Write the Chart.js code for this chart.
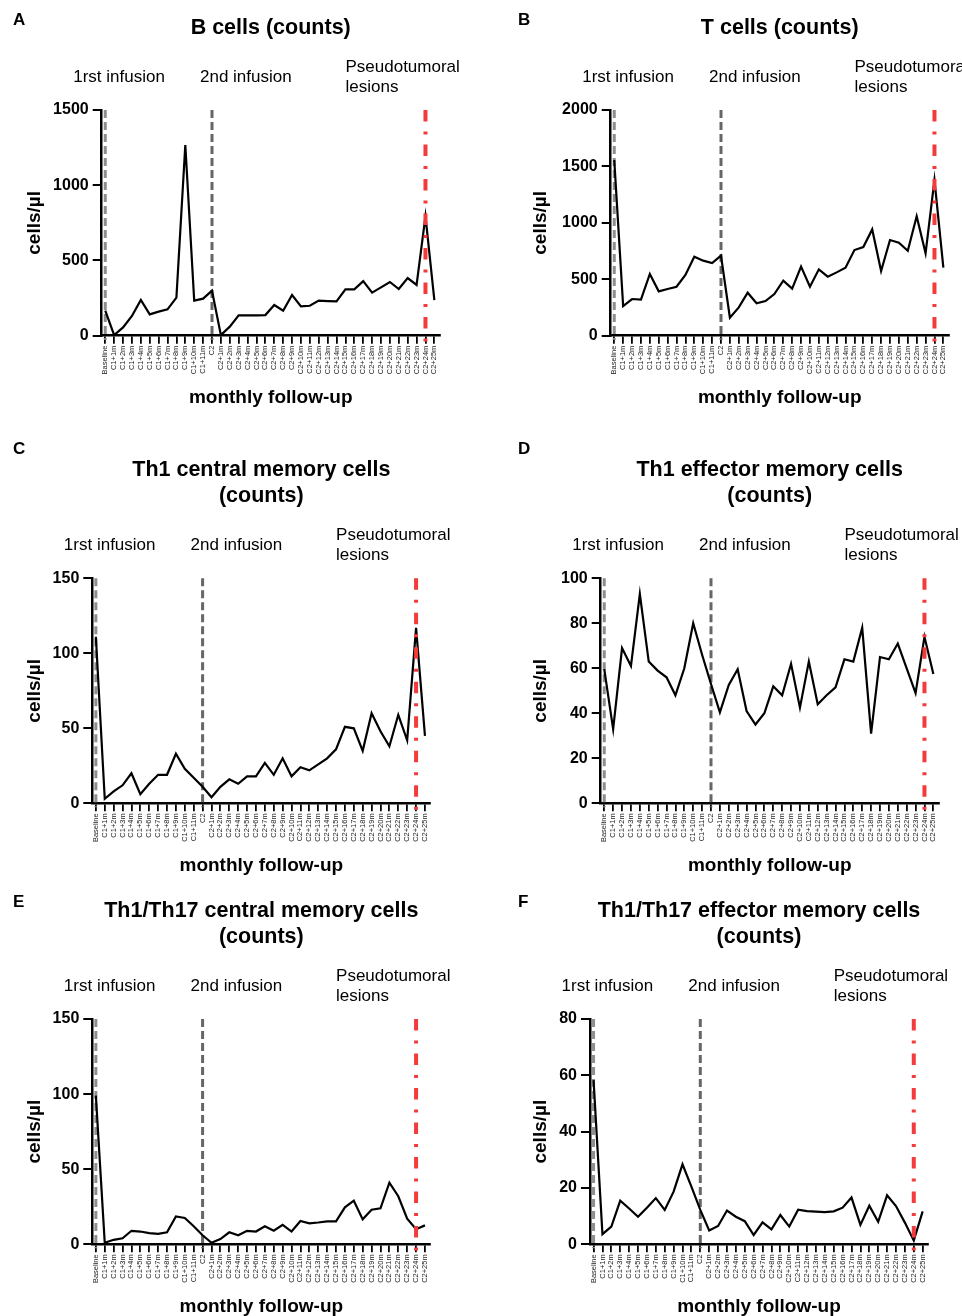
<!DOCTYPE html>
<html>
<head>
<meta charset="utf-8">
<title>Monthly follow-up of lymphocyte subsets</title>
<script src="https://cdn.jsdelivr.net/npm/chart.js@4.4.1/dist/chart.umd.min.js"></script>
<style>
  html, body { margin: 0; padding: 0; background: #fff; }
  body { width: 962px; height: 1316px; position: relative; overflow: hidden; }
  canvas { position: absolute; }
</style>
</head>
<body>
<canvas id="panelA"></canvas>
<canvas id="panelB"></canvas>
<canvas id="panelC"></canvas>
<canvas id="panelD"></canvas>
<canvas id="panelE"></canvas>
<canvas id="panelF"></canvas>
<script>
// DATA
const categories = [
  'Baseline', 'C1+1m', 'C1+2m', 'C1+3m', 'C1+4m', 'C1+5m', 'C1+6m', 'C1+7m', 'C1+8m', 'C1+9m', 'C1+10m', 'C1+11m',
  'C2', 'C2+1m', 'C2+2m', 'C2+3m', 'C2+4m', 'C2+5m', 'C2+6m', 'C2+7m', 'C2+8m', 'C2+9m', 'C2+10m', 'C2+11m',
  'C2+12m', 'C2+13m', 'C2+14m', 'C2+15m', 'C2+16m', 'C2+17m', 'C2+18m', 'C2+19m', 'C2+20m', 'C2+21m', 'C2+22m',
  'C2+23m', 'C2+24m', 'C2+25m'
];

const bCells = [166, 4, 55, 131, 237, 142, 160, 175, 253, 1267, 233, 246, 299, 4, 60, 135, 135, 135, 137, 204, 166, 270,
  195, 199, 233, 230, 228, 308, 308, 363, 286, 321, 357, 310, 383, 337, 795, 237];
const tCells = [1557, 263, 325, 319, 547, 393, 414, 434, 538, 700, 665, 644, 709, 160, 251, 381, 287, 307, 369, 487, 417,
  612, 434, 588, 523, 561, 603, 759, 786, 942, 573, 848, 824, 753, 1058, 730, 1380, 603];
const th1CentralMem = [111, 3, 8, 12, 20, 6, 13, 19, 19, 33, 23, 17, 11, 4, 11, 16, 13, 18, 18, 27, 19, 30, 18, 24, 22,
  26, 30, 36, 51, 50, 35, 60, 48, 38, 59, 42, 117, 45];
const th1EffectorMem = [59.6, 33, 69, 61, 93, 63, 59, 56, 48, 60, 80, 66, 53, 40.4, 52.6, 59.6, 41, 35, 40, 52, 48, 62,
  42.5, 63, 44, 48, 51.5, 64, 63, 78, 31, 65, 64, 71, 60, 49, 74, 57.5];
const th17CentralMem = [99, 1, 3, 4, 9, 8.5, 7.5, 7, 8, 18.5, 17.5, 12, 6, 1, 3.5, 8, 6, 9, 8.5, 12, 9, 13, 8.5, 15.5,
  14, 14.5, 15.3, 15.3, 24.6, 29, 16.6, 23, 24, 41, 32, 17, 10, 12.6];
const th17EffectorMem = [58.3, 3.6, 6.3, 15.5, 12.7, 9.8, 13, 16.4, 12.2, 18.7, 28.4, 20.5, 12.2, 4.9, 6.5, 12, 9.8, 8.2,
  3.3, 7.8, 5.3, 10.4, 6.3, 12.3, 11.8, 11.6, 11.4, 11.7, 13, 16.6, 6.9, 13.7, 8, 17.4, 13.6, 7.7, 1.3, 11.7];

const seriesList = [bCells, tCells, th1CentralMem, th1EffectorMem, th17CentralMem, th17EffectorMem];
const panelTitles = [
  ['B cells (counts)'],
  ['T cells (counts)'],
  ['Th1 central memory cells', '(counts)'],
  ['Th1 effector memory cells', '(counts)'],
  ['Th1/Th17 central memory cells', '(counts)'],
  ['Th1/Th17 effector memory cells', '(counts)']
];
const panelLetters = ['A', 'B', 'C', 'D', 'E', 'F'];
const yMax = [1500, 2000, 150, 100, 150, 80];
const yStep = [500, 500, 50, 20, 50, 20];

// EVENTS (index in categories) AND THEIR LABELS
const eventIndex = [0, 12, 36];
const eventLabels = [['1rst infusion'], ['2nd infusion'], ['Pseudotumoral', 'lesions']];

// LAYOUT (page pixels)
const panels = [
  { left: 0,   top: 0,   w: 490, h: 430, axisX: 101.7, plotTop: 110,   plotBottom: 335.7,  letterX: 13,  letterY: 20 },
  { left: 506, top: 0,   w: 456, h: 430, axisX: 610.7, plotTop: 110,   plotBottom: 335.7,  letterX: 518, letterY: 20 },
  { left: 0,   top: 430, w: 490, h: 450, axisX: 92.3,  plotTop: 578.3, plotBottom: 803.3,  letterX: 13,  letterY: 449 },
  { left: 506, top: 430, w: 456, h: 450, axisX: 600.7, plotTop: 578.3, plotBottom: 803.3,  letterX: 518, letterY: 449 },
  { left: 0,   top: 880, w: 490, h: 450, axisX: 92.3,  plotTop: 1019,  plotBottom: 1244.3, letterX: 13,  letterY: 902 },
  { left: 506, top: 880, w: 456, h: 450, axisX: 590,   plotTop: 1019,  plotBottom: 1244.3, letterX: 518, letterY: 902 }
];
const plotWidth = 338;
const eventTextOffset = [-32, -12, -80];
const FONT = '"Liberation Sans", Arial, Helvetica, sans-serif';

Chart.defaults.font.family = FONT;
Chart.defaults.color = '#000';

// DRAWS EVENT LINES AND ALL FREE TEXT OF A PANEL
function panelDeco(i) {
  const p = panels[i];
  return {
    id: 'panelDeco' + i,
    beforeDatasetsDraw(chart) {
      const { ctx, chartArea, scales } = chart;
      const grays = ['#8e8e8e', '#666666'];
      ctx.save();
      ctx.lineWidth = 3;
      ctx.setLineDash([8, 4]);
      for (let k = 0; k < 2; k++) {
        const x = scales.x.getPixelForValue(eventIndex[k]);
        ctx.strokeStyle = grays[k];
        ctx.beginPath();
        ctx.moveTo(x, chartArea.top);
        ctx.lineTo(x, chartArea.bottom + 4);
        ctx.stroke();
      }
      ctx.restore();
    },
    afterDatasetsDraw(chart) {
      const { ctx, chartArea, scales } = chart;
      const x = scales.x.getPixelForValue(eventIndex[2]);
      ctx.save();
      ctx.strokeStyle = '#f33b3b';
      ctx.lineWidth = 4;
      ctx.setLineDash([11.5, 10, 3, 10]);
      ctx.beginPath();
      ctx.moveTo(x, chartArea.top);
      ctx.lineTo(x, chartArea.bottom + 8);
      ctx.stroke();
      ctx.restore();
    },
    afterDraw(chart) {
      const { ctx, chartArea, scales } = chart;
      ctx.save();
      ctx.fillStyle = '#000';
      ctx.textBaseline = 'middle';

      // panel letter
      ctx.font = 'bold 17px ' + FONT;
      ctx.textAlign = 'left';
      ctx.fillText(panelLetters[i], p.letterX - p.left, p.letterY - p.top);

      // title, last line 82px above the plot
      ctx.font = 'bold 21.5px ' + FONT;
      ctx.textAlign = 'center';
      const cx = (chartArea.left + chartArea.right) / 2;
      const lines = panelTitles[i];
      lines.forEach((t, n) => {
        ctx.fillText(t, cx, chartArea.top - 82 - (lines.length - 1 - n) * 26);
      });

      // event labels
      ctx.font = '17px ' + FONT;
      ctx.textAlign = 'left';
      eventLabels.forEach((lab, k) => {
        const x = scales.x.getPixelForValue(eventIndex[k]) + eventTextOffset[k];
        if (lab.length === 1) {
          ctx.fillText(lab[0], x, chartArea.top - 33);
        } else {
          ctx.fillText(lab[0], x, chartArea.top - 43);
          ctx.fillText(lab[1], x, chartArea.top - 23);
        }
      });
      ctx.restore();
    }
  };
}

function buildChart(i) {
  const p = panels[i];
  const canvas = document.getElementById('panel' + panelLetters[i]);
  canvas.width = p.w;
  canvas.height = p.h;
  canvas.style.left = p.left + 'px';
  canvas.style.top = p.top + 'px';

  const padLeft = 21.5;
  const yWidth = p.axisX - p.left - padLeft;
  const xHeight = p.top + p.h - p.plotBottom;
  const padRight = p.w - (p.axisX - p.left + plotWidth);

  return new Chart(canvas, {
    type: 'line',
    data: {
      datasets: [{
        data: seriesList[i].map((v, k) => ({ x: k, y: v })),
        borderColor: '#000',
        borderWidth: 2.2,
        pointRadius: 0,
        tension: 0,
        fill: false
      }]
    },
    options: {
      responsive: false,
      animation: false,
      events: [],
      layout: { padding: { left: padLeft, right: padRight, top: p.plotTop - p.top, bottom: 0 } },
      plugins: { legend: { display: false }, tooltip: { enabled: false } },
      scales: {
        x: {
          type: 'linear',
          min: -0.4,
          max: categories.length - 0.4,
          afterBuildTicks: (scale) => { scale.ticks = categories.map((c, k) => ({ value: k })); },
          afterFit: (scale) => { scale.height = xHeight; },
          ticks: {
            autoSkip: false,
            minRotation: 90,
            maxRotation: 90,
            padding: 2,
            color: '#222',
            font: { size: 7.5 },
            callback: (v) => categories[v]
          },
          grid: { display: true, drawOnChartArea: false, drawTicks: true, tickLength: 8, color: '#000', lineWidth: 1.8 },
          border: { display: true, color: '#000', width: 2.5 },
          title: {
            display: true,
            text: 'monthly follow-up',
            font: { size: 19, weight: 'bold', lineHeight: 1 },
            padding: { top: 0, bottom: xHeight - 62 - 9.5 }
          }
        },
        y: {
          min: 0,
          max: yMax[i],
          afterFit: (scale) => { scale.width = yWidth; },
          ticks: {
            stepSize: yStep[i],
            padding: 4,
            color: '#000',
            font: { size: 16, weight: 'bold' },
            callback: (v) => String(v)
          },
          grid: { display: true, drawOnChartArea: false, drawTicks: true, tickLength: 9, color: '#000', lineWidth: 2 },
          border: { display: true, color: '#000', width: 2.5 },
          title: {
            display: true,
            text: 'cells/µl',
            font: { size: 19, weight: 'bold', lineHeight: 1 },
            padding: { top: 4, bottom: 0 }
          }
        }
      }
    },
    plugins: [panelDeco(i)]
  });
}

const charts = panels.map((p, i) => buildChart(i));
</script>
</body>
</html>
